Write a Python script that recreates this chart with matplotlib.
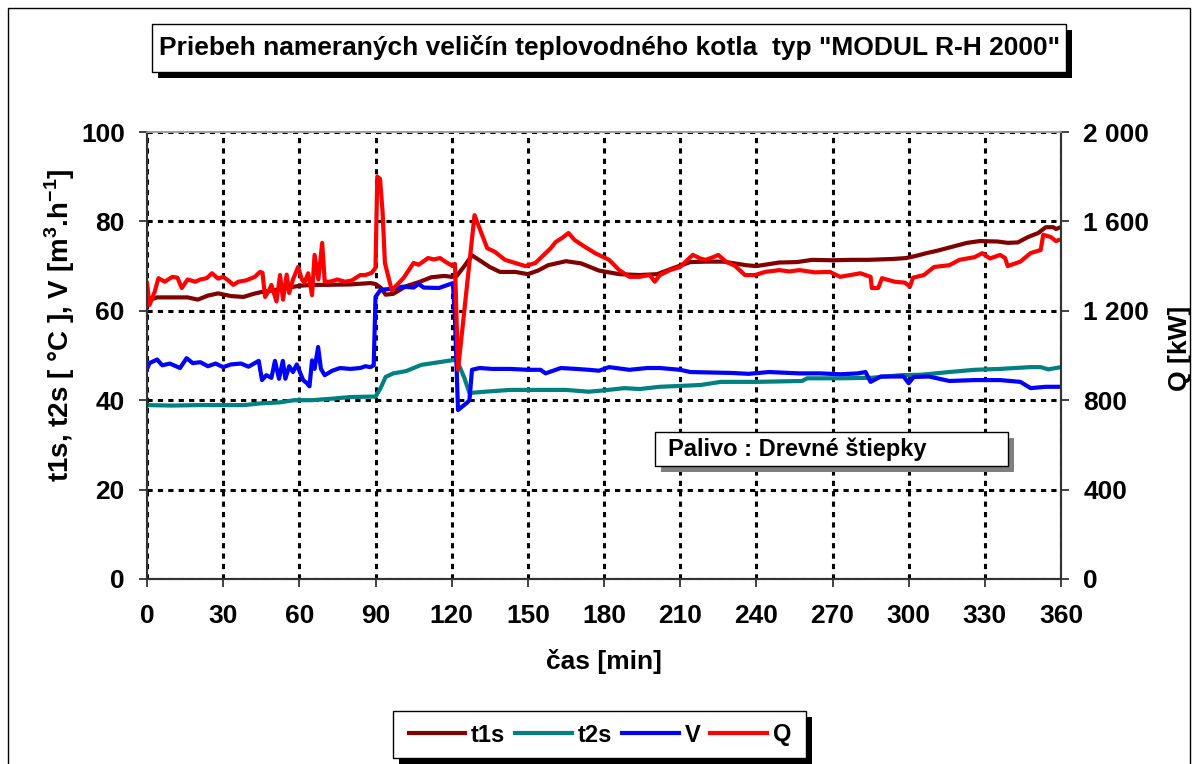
import matplotlib
matplotlib.use("Agg")
import matplotlib.pyplot as plt
from matplotlib import font_manager as fm
from matplotlib.patches import Rectangle
from matplotlib.lines import Line2D

# ---- data ----
t1s_t = [0, 1, 4, 10, 16, 20, 24, 28, 33, 38, 42, 45, 50, 55, 60, 65, 70, 80, 88, 90,
         92, 94, 97, 102, 107, 112, 117, 120, 122, 125, 128, 131, 135, 139, 145, 150, 154, 158, 165, 171,
         178, 186, 194, 201, 207, 214, 220, 227, 236, 240, 249, 256, 262, 270, 277, 284, 294, 299, 303, 307,
         311, 315, 319, 323, 328, 335, 339, 343, 347, 351, 354, 357, 358, 360]
t1s = [61.3, 62.4, 63.0, 63.0, 63.0, 62.5, 63.4, 63.9, 63.3, 63.1, 63.8, 64.2, 64.6, 65.1, 65.6, 65.8, 65.8, 65.9, 66.2, 66.0,
       65.2, 63.6, 63.8, 65.5, 66.4, 67.5, 67.8, 67.6, 67.8, 70.0, 72.4, 71.3, 69.8, 68.7, 68.7, 68.2, 69.0, 70.2, 71.1, 70.6,
       69.0, 68.2, 68.0, 68.2, 69.5, 70.9, 71.0, 71.0, 70.2, 70.0, 70.8, 70.9, 71.4, 71.3, 71.4, 71.4, 71.6, 71.8, 72.3, 72.9,
       73.4, 74.0, 74.6, 75.2, 75.6, 75.5, 75.2, 75.3, 76.5, 77.4, 78.7, 78.7, 78.3, 78.7]

t2s_t = [0, 10, 20, 30, 38, 45, 52, 58, 65, 72, 80, 88, 90, 92, 94, 97, 102, 108, 115, 121,
         122, 125, 127, 133, 143, 155, 165, 174, 180, 188, 194, 202, 210, 218, 226, 240, 258, 260, 273, 285,
         297, 305, 316, 326, 336, 348, 352, 355, 360]
t2s = [38.9, 38.8, 38.9, 38.9, 38.9, 39.3, 39.5, 40.0, 40.0, 40.3, 40.7, 40.8, 40.8, 42.7, 45.2, 46.0, 46.5, 47.9, 48.5, 49.0,
       49.0, 45.0, 41.6, 41.9, 42.3, 42.3, 42.3, 41.9, 42.2, 42.7, 42.5, 43.0, 43.2, 43.4, 44.1, 44.1, 44.3, 44.9, 44.9, 45.0,
       45.6, 45.7, 46.3, 46.8, 47.0, 47.4, 47.4, 46.9, 47.4]

V_t = [0, 1, 4, 6, 9, 13, 15.6, 18, 21, 24, 27, 30, 33, 37, 40, 44, 45.3, 47, 49, 50.4,
       52, 53.5, 54.5, 56, 57.5, 59, 61.5, 63, 64, 65, 66, 67.4, 68.5, 70, 73, 76, 80, 84, 86, 88,
       89.3, 90, 92, 96, 101, 105, 107, 109, 115, 120.5, 121.3, 122.5, 124, 126, 127, 128, 131, 136, 143, 150,
       155, 157, 163, 169, 174, 178, 182, 190, 197, 202, 210, 214, 222, 230, 237, 245, 257, 265, 273, 280,
       283, 285, 289, 298, 300, 302, 308, 316, 326, 336, 344, 348, 354, 360]
V = [47.0, 48.3, 49.1, 47.8, 48.2, 47.2, 49.4, 48.3, 48.5, 47.6, 48.2, 47.4, 48.0, 48.2, 47.5, 48.8, 44.5, 45.6, 45.0, 48.8,
     44.8, 48.8, 44.8, 47.6, 46.3, 48.0, 44.5, 43.8, 43.1, 48.9, 47.0, 51.9, 47.0, 45.6, 46.6, 47.2, 47.0, 47.2, 47.6, 47.4,
     47.8, 63.1, 64.7, 64.9, 65.4, 65.2, 66.0, 65.2, 65.1, 66.2, 58.0, 37.8, 38.5, 39.4, 40.0, 46.8, 47.2, 47.0, 47.0, 46.8,
     46.8, 46.0, 47.2, 47.0, 46.8, 46.6, 47.4, 46.8, 47.2, 47.2, 46.8, 46.3, 46.2, 46.1, 45.9, 46.3, 46.0, 46.0, 45.8, 46.0,
     46.3, 44.1, 45.3, 45.3, 43.8, 45.2, 45.3, 44.3, 44.5, 44.5, 44.1, 42.7, 43.0, 43.0]

Q_t = [0, 1, 3, 4.5, 7, 10, 12, 13.7, 16, 19, 21, 23.5, 25.6, 28, 30, 32, 34, 36, 39, 42.5,
       44.5, 45.5, 46.5, 48, 49, 51, 52.4, 53.6, 55, 56, 57.5, 59.5, 61, 62, 63.5, 65, 66, 67.5, 69, 70,
       72, 75, 78, 80.7, 84, 86, 88.5, 90, 90.7, 91.8, 92.8, 93.7, 96.4, 101, 105, 107, 110.7, 113, 115.4, 118,
       120.5, 121.3, 122.5, 129, 134, 137, 141, 145, 149, 153, 157, 159, 161, 163.5, 166, 168.5, 172.5, 176.5, 182, 186,
       190, 194, 198, 200, 202, 206, 210, 214, 215, 218, 220, 223, 225, 228, 231.5, 235.5, 239.5, 243.5, 249, 253,
       257, 263, 269, 273, 277, 281, 285, 285.5, 288, 289.5, 294.5, 298.5, 300.5, 301.7, 306, 310, 316, 320, 326, 329,
       332, 336, 338, 339, 344, 348, 352, 353, 356, 358, 360]
Q = [1324, 1226, 1284, 1346, 1330, 1352, 1348, 1302, 1340, 1330, 1340, 1346, 1368, 1344, 1352, 1336, 1316, 1330, 1336, 1352,
     1374, 1370, 1262, 1290, 1316, 1242, 1360, 1250, 1362, 1280, 1340, 1396, 1340, 1326, 1368, 1270, 1450, 1340, 1504, 1330,
     1330, 1340, 1330, 1336, 1360, 1360, 1370, 1392, 1800, 1790, 1640, 1414, 1292, 1346, 1414, 1406, 1436, 1430, 1436, 1416,
     1400, 1410, 936, 1628, 1480, 1464, 1428, 1414, 1400, 1414, 1458, 1480, 1508, 1526, 1548, 1516, 1486, 1458, 1428, 1382,
     1352, 1352, 1360, 1330, 1360, 1382, 1396, 1440, 1450, 1434, 1428, 1440, 1450, 1420, 1402, 1360, 1360, 1374, 1382, 1376,
     1382, 1372, 1374, 1352, 1360, 1368, 1352, 1302, 1302, 1346, 1330, 1326, 1308, 1348, 1360, 1396, 1404, 1428, 1440, 1458,
     1434, 1450, 1436, 1400, 1420, 1458, 1472, 1540, 1530, 1512, 1520]

x_ticks = list(range(0, 361, 30))
left_ticks = [0, 20, 40, 60, 80, 100]
right_ticks = [0, 400, 800, 1200, 1600, 2000]
right_labels = ['0', '400', '800', '1 200', '1 600', '2 000']

names = {f.name for f in fm.fontManager.ttflist}
title_font = 'Liberation Sans Narrow' if 'Liberation Sans Narrow' in names else 'Liberation Sans'
title_size = 21 if title_font == 'Liberation Sans Narrow' else 19

plt.rcParams['font.family'] = ['Liberation Sans', 'DejaVu Sans']
plt.rcParams['font.weight'] = 'bold'
plt.rcParams['mathtext.fontset'] = 'custom'
plt.rcParams['mathtext.rm'] = 'Liberation Sans:bold'
plt.rcParams['mathtext.bf'] = 'Liberation Sans:bold'

W, H = 1196, 764
fig = plt.figure(figsize=(W / 100, H / 100), dpi=100)


def fx(px):
    return px / W


def fy(py):
    return 1 - py / H


def shadow_box(x0, y0, x1, y1, shade, off=6):
    fig.patches.append(Rectangle((fx(x0 + off), fy(y1 + off)), fx(x1 - x0), (y1 - y0) / H,
                                 transform=fig.transFigure, fc=shade, ec='none', zorder=5))
    fig.patches.append(Rectangle((fx(x0), fy(y1)), fx(x1 - x0), (y1 - y0) / H,
                                 transform=fig.transFigure, fc='white', ec='black', lw=1, zorder=6))


# outer chart border
fig.patches.append(Rectangle((fx(8), -0.01), fx(1182), fy(8) + 0.01, transform=fig.transFigure,
                             fill=False, ec='black', lw=1))

ax = fig.add_axes([fx(147), fy(579), fx(914), 447 / H])
ax.plot(t1s_t, t1s, color='#800000', lw=3, label='t1s')
ax.plot(t2s_t, t2s, color='#008080', lw=3, label='t2s')
ax.plot(V_t, V, color='#0000ff', lw=3, label='V')
ax.set_xlim(0, 360)
ax.set_ylim(0, 100)
ax.set_xticks(x_ticks)
ax.set_yticks(left_ticks)
ax.set_axisbelow(True)
ax.grid(True, color='black', linestyle=(0, (1.7, 1.7)), linewidth=2.2)
ax.tick_params(axis='both', direction='out', length=6, width=1.3, colors='#333333',
               labelcolor='black', labelsize=19)
ax.tick_params(axis='y', pad=10)
ax.tick_params(axis='x', pad=12)
for lab in ax.get_xticklabels() + ax.get_yticklabels():
    lab.set_fontweight('bold')

ax2 = ax.twinx()
ax2.plot(Q_t, Q, color='#ff0000', lw=3, label='Q')
ax2.set_ylim(0, 2000)
ax2.set_yticks(right_ticks)
ax2.set_yticklabels(right_labels, fontweight='bold')
ax2.tick_params(axis='y', direction='out', length=6, width=1.3, colors='#333333',
                labelcolor='black', labelsize=19, pad=10)

for a in (ax, ax2):
    a.spines['top'].set_color('#a0a0a0')
    a.spines['top'].set_linewidth(1.2)
    for s in ('left', 'right', 'bottom'):
        a.spines[s].set_color('#333333')
        a.spines[s].set_linewidth(1.5)

# axis titles
fig.text(fx(604), fy(662), 'čas [min]', ha='center', va='center', fontsize=19, fontweight='bold')
fig.text(fx(60), fy(325), r't1s, t2s [ °C ], V [m$^{3}$.h$^{-1}$]', rotation=90,
         ha='center', va='center', fontsize=20, fontweight='bold')
fig.text(fx(1180), fy(348), 'Q [kW]', rotation=90, ha='center', va='center',
         fontsize=19, fontweight='bold')

# title box
shadow_box(152, 24, 1066, 72, 'black')
fig.text(fx(609), fy(48), 'Priebeh nameraných veličín teplovodného kotla  typ "MODUL R-H 2000"',
         ha='center', va='center', fontsize=title_size, fontweight='bold',
         family=[title_font, 'DejaVu Sans'], zorder=7)

# fuel note
shadow_box(655, 432, 1008, 466, '#808080')
fig.text(fx(668), fy(449), 'Palivo : Drevné štiepky', ha='left', va='center',
         fontsize=17, fontweight='bold', zorder=7)

# legend
shadow_box(393, 711, 806, 758, 'black')
handles = [Line2D([], [], color=c, lw=3) for c in ('#800000', '#008080', '#0000ff', '#ff0000')]
leg = fig.legend(handles, ['t1s', 't2s', 'V', 'Q'], loc='center', bbox_to_anchor=(fx(600), fy(735)),
                 ncol=4, frameon=False, handlelength=2.4, handletextpad=0.25,
                 columnspacing=0.42, prop={'weight': 'bold', 'size': 17})
leg.set_zorder(8)

fig.savefig('out.png', dpi=100)
